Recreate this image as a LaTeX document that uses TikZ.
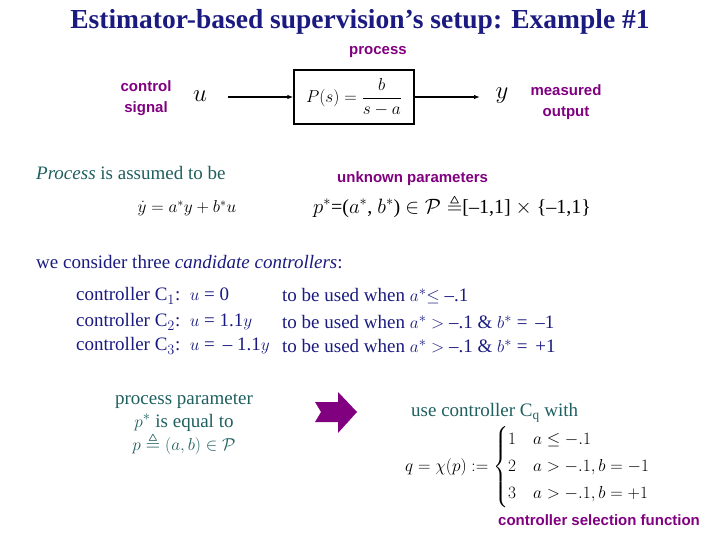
\documentclass[tikz,border=0pt]{standalone}
\usepackage{amsmath,amssymb}
\usepackage{fontspec}
\setmainfont{Liberation Serif}
\newfontfamily\arial{Liberation Sans}
\usetikzlibrary{arrows.meta}
\definecolor{navy}{HTML}{1A1A80}
\definecolor{teal}{HTML}{1F5F5F}
\definecolor{purp}{HTML}{800080}
\begin{document}
\begin{tikzpicture}[x=1pt,y=-1pt,
  lab/.style={text=purp,font=\arial\bfseries\fontsize{15}{21}\selectfont,align=center,inner sep=1pt},
  txt/.style={text=teal,font=\fontsize{19}{23}\selectfont,inner sep=1pt},
  blk/.style={font=\fontsize{19}{23}\selectfont,inner sep=1pt}]
\useasboundingbox (0,0) rectangle (720,540);
\node[text=navy,font=\bfseries\fontsize{27.5}{32}\selectfont] (title) at (360,22) {Estimator-based supervision’s setup: Example \#1};
\node[lab] (proc) at (378,52) {process};
\node[draw,line width=1.3pt,inner sep=1pt,minimum width=120pt,minimum height=54pt,font=\fontsize{17}{20}\selectfont] (P) at (354,97) {$P(s)=\dfrac{b}{s-a}$};
\node[lab] (cs) at (146,98) {control\\signal};
\node[font=\fontsize{26}{28}\selectfont] (u) at (200,96) {$u$};
\node[font=\fontsize{26}{28}\selectfont] (y) at (502,96) {$y$};
\node[lab] (mo) at (566,102) {measured\\output};
\draw[line width=1.3pt,-{Latex[length=6pt]}] (228,97) -- (P.west);
\draw[line width=1.3pt,-{Latex[length=6pt]}] (P.east) -- (480,97);
\node[txt,anchor=west] (assum) at (35,173) {\textit{Process} is assumed to be};
\node[blk,font=\fontsize{18}{20}\selectfont] (ode) at (187,208) {$\dot y = a^{*}y + b^{*}u$};
\node[lab,anchor=west] (unk) at (336,179) {unknown parameters};
\node[blk,anchor=west,font=\fontsize{20}{23}\selectfont] (pset) at (312,206) {$p^{*}$=($a^{*}$, $b^{*}$) $\in\mathcal{P}\triangleq$[--1,1] $\times$ \{--1,1\}};
\node[txt,text=navy,anchor=west] (wc) at (35,262) {we consider three \textit{candidate controllers}:};
\begin{scope}[every node/.style={anchor=west,text=navy,font=\fontsize{19}{23}\selectfont,inner sep=1pt}]
\node (c1) at (75,296) {controller C$_1$:\, $u$ = 0};
\node (c2) at (75,322) {controller C$_2$:\, $u$ = 1.1$y$};
\node (c3) at (75,346) {controller C$_3$:\, $u$ = \,-- 1.1$y$};
\node (w1) at (281,296) {to be used when $a^{*}$$\le$ --.1};
\node (w2) at (281,322) {to be used when $a^{*}$ $>$ --.1 \& $b^{*}$ =\, --1};
\node (w3) at (281,346) {to be used when $a^{*}$ $>$ --.1 \& $b^{*}$ =\, +1};
\end{scope}
\node[txt,align=center] (pp) at (184,424) {process parameter\\$p^{*}$ is equal to\\$p\triangleq(a,b)\in\mathcal{P}$};
\fill[purp] (315,402) -- (338,402) -- (338,392) -- (357,412) -- (338,433) -- (338,422) -- (315,422) -- (321,412) -- cycle;
\node[txt,anchor=west] (use) at (410,413) {use controller C$_{\text{q}}$ with};
\node[blk,anchor=west,font=\fontsize{17}{20}\selectfont] (q) at (404,467) {$q=\chi(p):=\begin{cases}1 & a\le -.1\\[3pt] 2 & a>-.1, b=-1\\[3pt] 3 & a>-.1, b=+1\end{cases}$};
\node[lab] (csf) at (599,520) {controller selection function};
\end{tikzpicture}
\end{document}
